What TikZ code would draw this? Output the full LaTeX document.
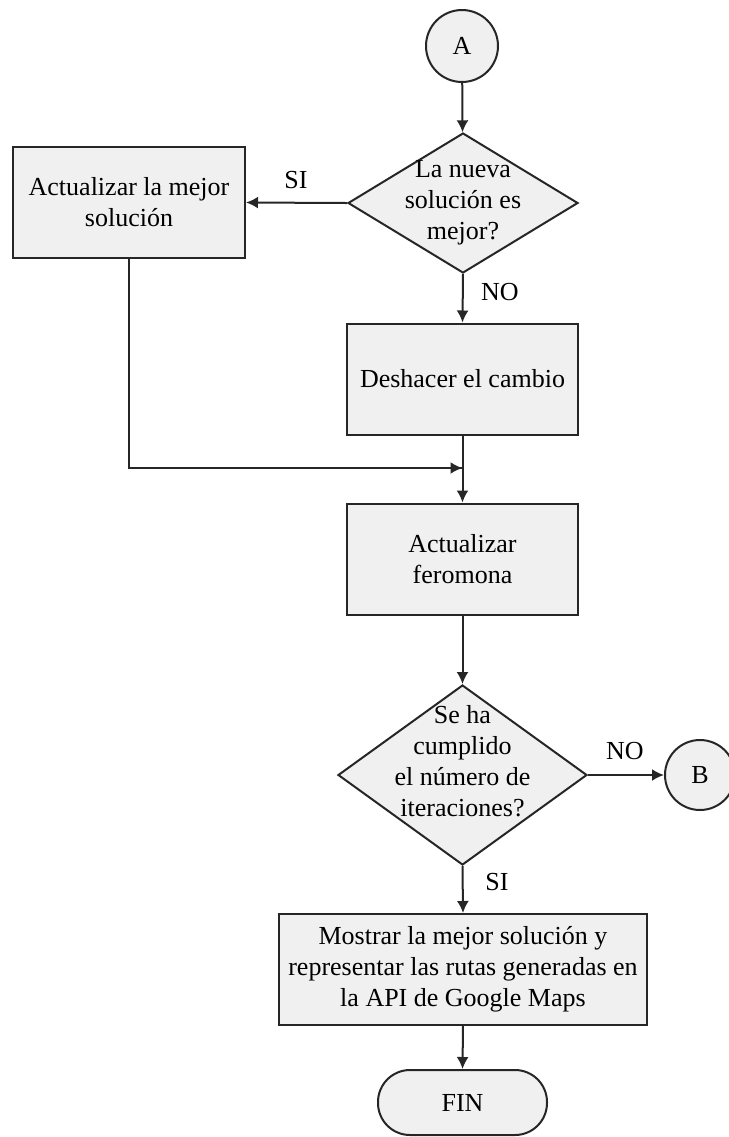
\documentclass[tikz,border=0pt]{standalone}
\usepackage{fontspec}
\setmainfont{Liberation Serif}
\usetikzlibrary{shapes.geometric,arrows.meta}

\tikzset{
  base/.style={draw=black!85, fill=black!6, line width=1pt, align=center, inner sep=0pt},
  proc/.style={base, rectangle, minimum width=116pt, minimum height=55.5pt},
  decision/.style={base, diamond},
  connector/.style={base, circle, minimum size=36pt},
  terminal/.style={base, rectangle, rounded corners=16pt, minimum width=84.5pt, minimum height=32.5pt},
  line/.style={draw=black!85, line width=1pt},
  arrow/.style={line, -{Latex[length=6pt,width=6pt]}},
  tag/.style={inner sep=0pt}
}

\begin{document}
\begin{tikzpicture}[x=0.5pt, y=-0.5pt, font=\fontsize{13}{15.5}\selectfont]
\useasboundingbox (0,0) rectangle (729,1137);
% nodes
\node[connector] (A) at (462,46) {A};
\node[decision, minimum width=115pt, minimum height=70pt] (nueva) at (463,203) {};
\node[tag, align=center] at (nueva) {La nueva\\solución es\\mejor?};
\node[proc] (mejor) at (129,202.5) {Actualizar la mejor\\solución};
\node[proc, minimum width=115.5pt] (deshacer) at (462.5,379) {Deshacer el cambio};
\node[proc, minimum width=115.5pt] (feromona) at (462.5,559) {Actualizar\\feromona};
\node[decision, minimum width=124.5pt, minimum height=90pt] (iter) at (462.5,775) {};
\node[tag, align=center, yshift=7pt] at (iter) {Se ha\\cumplido\\el número de\\iteraciones?};
\node[connector, minimum size=35pt] (B) at (700,775) {B};
\node[proc, minimum width=184pt] (mostrar) at (463,969.5) {Mostrar la mejor solución y\\representar las rutas generadas en\\la API de Google Maps};
\node[terminal] (fin) at (462.5,1102.5) {FIN};
\coordinate (merge) at (462.5,468);
% connectors
\draw[arrow] (A) -- (nueva);
\draw[arrow] (nueva.west) -- (mejor.east);
\draw[arrow] (nueva.south) -- (deshacer.north);
\draw[line] (mejor.south) |- (merge);
\draw[arrow] (mejor.south |- merge) -- (merge);
\draw[arrow] (deshacer.south) -- (feromona.north);
\draw[arrow] (feromona.south) -- (iter.north);
\draw[arrow] (iter.east) -- (B.west);
\draw[arrow] (iter.south) -- (mostrar.north);
\draw[arrow] (mostrar.south) -- (fin.north);
% labels
\node[tag] (si1) at (296,180) {SI};
\node[tag] (no1) at (500,292) {NO};
\node[tag] (no2) at (625,751) {NO};
\node[tag] (si2) at (497,882) {SI};
\end{tikzpicture}
\end{document}
